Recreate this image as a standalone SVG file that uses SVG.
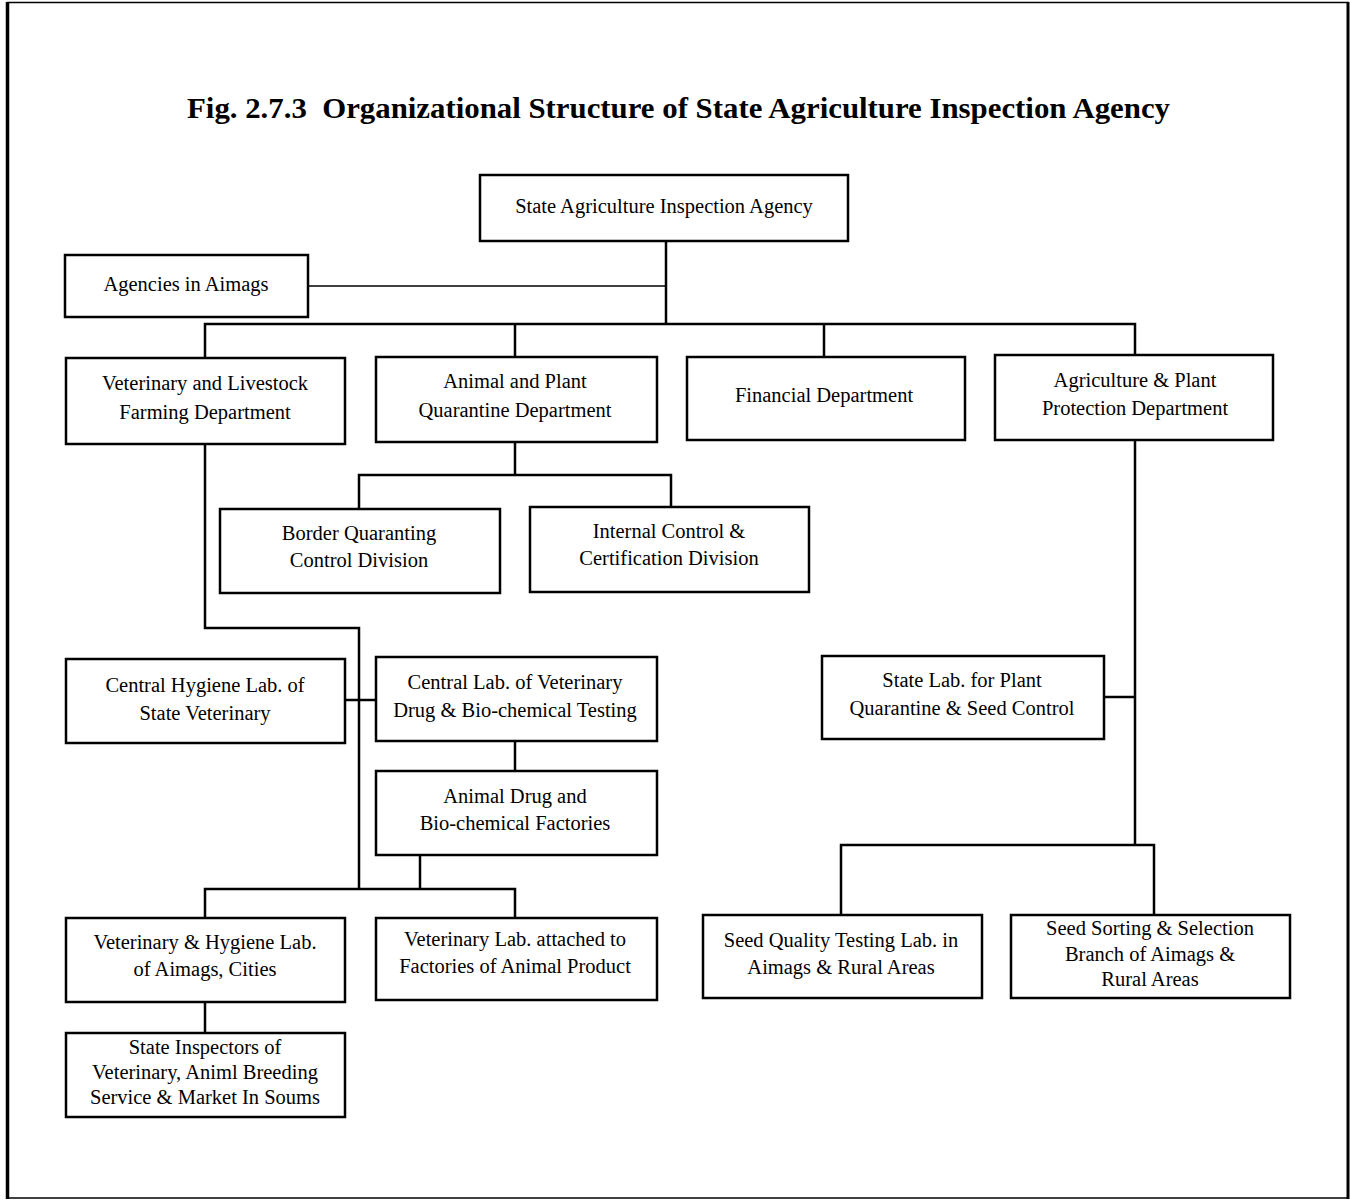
<svg xmlns="http://www.w3.org/2000/svg" width="1350" height="1201" viewBox="0 0 1350 1201">
  <style>
    .box { fill: #ffffff; stroke: #000000; stroke-width: 2.5; }
    .lbl { font-family: "Liberation Serif", "Times New Roman", serif; font-size: 20.5px; fill: #000000; text-anchor: middle; }
    .title { font-family: "Liberation Serif", "Times New Roman", serif; font-size: 30px; font-weight: bold; fill: #000000; white-space: pre; }
    .wire { fill: none; stroke: #000000; stroke-width: 2.5; }
    .thin { fill: none; stroke: #000000; stroke-width: 1.5; }
  </style>
  <rect x="0" y="0" width="1350" height="1201" fill="#ffffff"/>
  <!-- page frame -->
  <g id="frame" fill="none" stroke="#000000">
    <line x1="7" y1="2.5" x2="1349" y2="2.5" stroke-width="1.5"/>
    <line x1="7.5" y1="2" x2="7.5" y2="1199" stroke-width="3.5"/>
    <line x1="1348" y1="2" x2="1348" y2="1199" stroke-width="3"/>
    <line x1="7" y1="1198" x2="1349" y2="1198" stroke-width="1.5"/>
  </g>
  <text class="title" x="187" y="118" textLength="983" lengthAdjust="spacingAndGlyphs" xml:space="preserve">Fig. 2.7.3  Organizational Structure of State Agriculture Inspection Agency</text>

  <!-- connectors -->
  <g id="connectors">
    <line class="wire" x1="666" y1="241" x2="666" y2="324"/>
    <line class="thin" x1="308" y1="286" x2="666" y2="286"/>
    <polyline class="wire" points="205,358 205,324 1135,324 1135,355"/>
    <line class="wire" x1="515" y1="324" x2="515" y2="357"/>
    <line class="wire" x1="824" y1="324" x2="824" y2="357"/>
    <line class="wire" x1="515" y1="442" x2="515" y2="475"/>
    <polyline class="wire" points="359,509 359,475 671,475 671,507"/>
    <polyline class="wire" points="205,444 205,628 359,628 359,889"/>
    <line class="wire" x1="345" y1="700" x2="376" y2="700"/>
    <line class="wire" x1="515" y1="741" x2="515" y2="771"/>
    <line class="wire" x1="420" y1="855" x2="420" y2="889"/>
    <polyline class="wire" points="205,918 205,889 515,889 515,918"/>
    <line class="wire" x1="205" y1="1002" x2="205" y2="1033"/>
    <line class="wire" x1="1135" y1="440" x2="1135" y2="845"/>
    <line class="wire" x1="1104" y1="697" x2="1135" y2="697"/>
    <polyline class="wire" points="841,915 841,845 1154,845 1154,915"/>
  </g>

  <g id="n-agency">
    <rect class="box" x="480" y="175" width="368" height="66"/>
    <text class="lbl" x="664" y="213">State Agriculture Inspection Agency</text>
  </g>
  <g id="n-aimags">
    <rect class="box" x="65" y="255" width="243" height="62"/>
    <text class="lbl" x="186" y="291">Agencies in Aimags</text>
  </g>
  <g id="n-vet-livestock">
    <rect class="box" x="66" y="358" width="279" height="86"/>
    <text class="lbl" x="205" y="390">Veterinary and Livestock</text>
    <text class="lbl" x="205" y="419">Farming Department</text>
  </g>
  <g id="n-quarantine">
    <rect class="box" x="376" y="357" width="281" height="85"/>
    <text class="lbl" x="515" y="388">Animal and Plant</text>
    <text class="lbl" x="515" y="417">Quarantine Department</text>
  </g>
  <g id="n-financial">
    <rect class="box" x="687" y="357" width="278" height="83"/>
    <text class="lbl" x="824" y="402">Financial Department</text>
  </g>
  <g id="n-agri-plant">
    <rect class="box" x="995" y="355" width="278" height="85"/>
    <text class="lbl" x="1135" y="387">Agriculture &amp; Plant</text>
    <text class="lbl" x="1135" y="415">Protection Department</text>
  </g>
  <g id="n-border">
    <rect class="box" x="220" y="509" width="280" height="84"/>
    <text class="lbl" x="359" y="540">Border Quaranting</text>
    <text class="lbl" x="359" y="567">Control Division</text>
  </g>
  <g id="n-internal">
    <rect class="box" x="530" y="507" width="279" height="85"/>
    <text class="lbl" x="669" y="538">Internal Control &amp;</text>
    <text class="lbl" x="669" y="565">Certification Division</text>
  </g>
  <g id="n-hygiene-central">
    <rect class="box" x="66" y="659" width="279" height="84"/>
    <text class="lbl" x="205" y="692">Central Hygiene Lab. of</text>
    <text class="lbl" x="205" y="720">State Veterinary</text>
  </g>
  <g id="n-drug-lab">
    <rect class="box" x="376" y="657" width="281" height="84"/>
    <text class="lbl" x="515" y="689">Central Lab. of Veterinary</text>
    <text class="lbl" x="515" y="717">Drug &amp; Bio-chemical Testing</text>
  </g>
  <g id="n-factories">
    <rect class="box" x="376" y="771" width="281" height="84"/>
    <text class="lbl" x="515" y="803">Animal Drug and</text>
    <text class="lbl" x="515" y="830">Bio-chemical Factories</text>
  </g>
  <g id="n-plant-lab">
    <rect class="box" x="822" y="656" width="282" height="83"/>
    <text class="lbl" x="962" y="687">State Lab. for Plant</text>
    <text class="lbl" x="962" y="715">Quarantine &amp; Seed Control</text>
  </g>
  <g id="n-vet-hygiene">
    <rect class="box" x="66" y="918" width="279" height="84"/>
    <text class="lbl" x="205" y="949">Veterinary &amp; Hygiene Lab.</text>
    <text class="lbl" x="205" y="976">of Aimags, Cities</text>
  </g>
  <g id="n-vet-lab-factories">
    <rect class="box" x="376" y="918" width="281" height="82"/>
    <text class="lbl" x="515" y="946">Veterinary Lab. attached to</text>
    <text class="lbl" x="515" y="973">Factories of Animal Product</text>
  </g>
  <g id="n-seed-quality">
    <rect class="box" x="703" y="915" width="279" height="83"/>
    <text class="lbl" x="841" y="947">Seed Quality Testing Lab. in</text>
    <text class="lbl" x="841" y="974">Aimags &amp; Rural Areas</text>
  </g>
  <g id="n-seed-sorting">
    <rect class="box" x="1011" y="915" width="279" height="83"/>
    <text class="lbl" x="1150" y="935">Seed Sorting &amp; Selection</text>
    <text class="lbl" x="1150" y="961">Branch of Aimags &amp;</text>
    <text class="lbl" x="1150" y="986">Rural Areas</text>
  </g>
  <g id="n-inspectors">
    <rect class="box" x="66" y="1033" width="279" height="84"/>
    <text class="lbl" x="205" y="1054">State Inspectors of</text>
    <text class="lbl" x="205" y="1079">Veterinary, Animl Breeding</text>
    <text class="lbl" x="205" y="1104">Service &amp; Market In Soums</text>
  </g>
</svg>
